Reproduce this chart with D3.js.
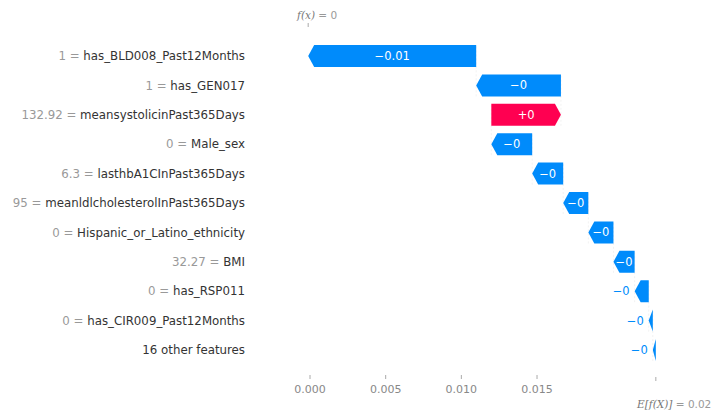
<!DOCTYPE html>
<html>
<head>
<meta charset="utf-8">
<script src="https://cdn.jsdelivr.net/npm/d3@7"></script>
<style>
  body { margin: 0; background: #fff; }
  text { font-family: "DejaVu Sans", sans-serif; }
</style>
</head>
<body>
<div id="chart"></div>
<script>
// feature rows, top to bottom
const featureValues = ["1", "1", "132.92", "0", "6.3", "95", "0", "32.27", "0", "0", ""];
const featureNames = ["has_BLD008_Past12Months", "has_GEN017", "meansystolicinPast365Days", "Male_sex",
    "lasthbA1CInPast365Days", "meanldlcholesterolInPast365Days", "Hispanic_or_Latino_ethnicity",
    "BMI", "has_RSP011", "has_CIR009_Past12Months", "16 other features"];
const shapValues = [-0.0111, -0.0056, 0.0046, -0.0027, -0.00205, -0.00166, -0.00166, -0.0014, -0.00093, -0.00027, -0.0002];
const barLabels = ["\u22120.01", "\u22120", "+0", "\u22120", "\u22120", "\u22120", "\u22120", "\u22120", "\u22120", "\u22120", "\u22120"];
const baseValue = 0.02285;
const xTicks = [0, 0.005, 0.01, 0.015];
const xTickLabels = ["0.000", "0.005", "0.010", "0.015"];

const blue = "#008bfb", red = "#ff0051";

const width = 713, height = 413;
const svg = d3.select("#chart").append("svg")
    .attr("width", width)
    .attr("height", height);

const x = d3.scaleLinear().domain([0, 0.02]).range([310, 612.7]);
const y = d3.scalePoint().domain(d3.range(featureNames.length)).range([56, 350]);

const barH = 22, head = 6;

// cumulative positions, from the bottom row (base value) upward
let rows = [];
let pos = baseValue;
for (let i = featureNames.length - 1; i >= 0; i--) {
    let start = pos, end = pos + shapValues[i];
    rows[i] = {i: i, start: start, end: end, v: shapValues[i]};
    pos = end;
}
const fx = pos;

// faint dashed connectors between bars
const conn = svg.append("g");
rows.forEach(function(r) {
    if (r.i === 0) return;
    conn.append("line")
        .attr("x1", x(r.end)).attr("x2", x(r.end))
        .attr("y1", y(r.i) + barH / 2).attr("y2", y(r.i - 1) - barH / 2)
        .attr("stroke", "#e4e4e4").attr("stroke-width", 0.5)
        .attr("stroke-dasharray", "2,2");
});

// arrow-shaped bars
function arrow(r) {
    let x0 = x(r.start), x1 = x(r.end), cy = y(r.i);
    let w = Math.abs(x1 - x0);
    let h = Math.min(head, w);
    let dir = r.v < 0 ? 1 : -1;
    let t = cy - barH / 2, b = cy + barH / 2;
    return [[x0, t], [x1 + dir * h, t], [x1, cy], [x1 + dir * h, b], [x0, b]]
        .map(p => p.join(",")).join(" ");
}

svg.append("g").selectAll("polygon")
    .data(rows)
    .join("polygon")
    .attr("points", arrow)
    .attr("fill", d => d.v < 0 ? blue : red);

// value labels on the bars
rows.forEach(function(r) {
    let x0 = x(r.start), x1 = x(r.end);
    let w = Math.abs(x1 - x0);
    let t = svg.append("text")
        .attr("y", y(r.i))
        .attr("dy", "0.35em")
        .style("font-size", "11.5px")
        .text(barLabels[r.i]);
    let tw = t.node().getComputedTextLength();
    if (w > tw + 4) {
        t.attr("x", (x0 + x1) / 2).attr("text-anchor", "middle").attr("fill", "#fff");
    } else {
        t.attr("x", Math.min(x0, x1) - 5).attr("text-anchor", "end").attr("fill", blue);
    }
});

// feature labels on the left
const lab = svg.append("g");
featureNames.forEach(function(name, i) {
    let t = lab.append("text")
        .attr("x", 245).attr("y", y(i)).attr("dy", "0.35em")
        .attr("text-anchor", "end")
        .style("font-size", "11.8px");
    if (featureValues[i] !== "") {
        t.append("tspan").attr("fill", "#999").text(featureValues[i] + " = ");
    }
    t.append("tspan").attr("fill", "#333").text(name);
});

// bottom axis
const axis = svg.append("g");
xTicks.forEach(function(v, k) {
    axis.append("line")
        .attr("x1", x(v)).attr("x2", x(v))
        .attr("y1", 375).attr("y2", 379)
        .attr("stroke", "#aaa").attr("stroke-width", 1);
    axis.append("text")
        .attr("x", x(v)).attr("y", 393)
        .attr("text-anchor", "middle")
        .attr("fill", "#888")
        .style("font-size", "11px")
        .text(xTickLabels[k]);
});

// E[f(X)] tick and label
axis.append("line")
    .attr("x1", x(baseValue)).attr("x2", x(baseValue))
    .attr("y1", 377).attr("y2", 381)
    .attr("stroke", "#aaa");
let et = axis.append("text")
    .attr("x", 637).attr("y", 408)
    .attr("fill", "#777")
    .style("font-size", "10.5px");
et.append("tspan").style("font-family", "'DejaVu Serif', serif").style("font-style", "italic").text("E[f(X)]");
et.append("tspan").attr("fill", "#999").text(" = " + d3.format(".2f")(baseValue));

// f(x) tick and label at the top
axis.append("line")
    .attr("x1", x(fx)).attr("x2", x(fx))
    .attr("y1", 23).attr("y2", 27)
    .attr("stroke", "#aaa");
let ft = axis.append("text")
    .attr("x", 297).attr("y", 19)
    .attr("fill", "#777")
    .style("font-size", "10.5px");
ft.append("tspan").style("font-family", "'DejaVu Serif', serif").style("font-style", "italic").text("f(x)");
ft.append("tspan").attr("fill", "#999").text(" = " + d3.format(".0f")(Math.abs(fx)));
</script>
</body>
</html>
